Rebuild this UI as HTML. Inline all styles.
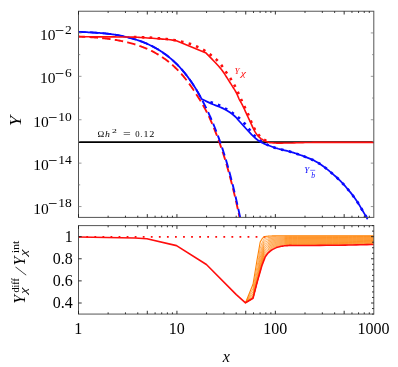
<!DOCTYPE html>
<html><head><meta charset="utf-8"><title>chart</title>
<style>html,body{margin:0;padding:0;background:#fff;overflow:hidden}svg{display:block;will-change:transform}</style></head>
<body>
<svg width="398" height="367" viewBox="0 0 398 367">
<rect width="398" height="367" fill="#fff"/>
<defs><clipPath id="c1"><rect x="78.50" y="11.23" width="295.70" height="208.57"/></clipPath>
<clipPath id="c1b"><rect x="78.50" y="11.23" width="295.70" height="206.47"/></clipPath>
<clipPath id="c2"><rect x="78.50" y="225.60" width="295.70" height="88.47"/></clipPath></defs>
<g clip-path="url(#c1)" fill="none" stroke-linejoin="round">
<path d="M78.50 142.15 H373.80" stroke="#000" stroke-width="1.6"/>
<g clip-path="url(#c1b)">
<path d="M78.50 36.49 L79.46 36.54 L80.42 36.58 L81.38 36.63 L82.35 36.68 L83.31 36.73 L84.27 36.78 L85.23 36.83 L86.19 36.89 L87.15 36.94 L88.12 37.00 L89.08 37.06 L90.04 37.13 L91.00 37.19 L91.96 37.26 L92.92 37.33 L93.88 37.41 L94.85 37.48 L95.81 37.56 L96.77 37.64 L97.73 37.73 L98.69 37.82 L99.65 37.91 L100.62 38.00 L101.58 38.10 L102.54 38.20 L103.50 38.30 L104.46 38.41 L105.42 38.52 L106.38 38.64 L107.35 38.75 L108.31 38.88 L109.27 39.00 L110.23 39.13 L111.19 39.27 L112.15 39.41 L113.12 39.55 L114.08 39.70 L115.04 39.86 L116.00 40.02 L116.96 40.18 L117.92 40.35 L118.88 40.52 L119.85 40.70 L120.81 40.89 L121.77 41.08 L122.73 41.28 L123.69 41.48 L124.65 41.69 L125.62 41.91 L126.58 42.13 L127.54 42.36 L128.50 42.60 L129.46 42.84 L130.42 43.10 L131.38 43.36 L132.35 43.62 L133.31 43.90 L134.27 44.18 L135.23 44.47 L136.19 44.77 L137.15 45.08 L138.12 45.40 L139.08 45.73 L140.04 46.07 L141.00 46.42 L141.96 46.77 L142.92 47.14 L143.88 47.52 L144.85 47.91 L145.81 48.31 L146.77 48.72 L147.73 49.14 L148.69 49.58 L149.65 50.02 L150.62 50.48 L151.58 50.96 L152.54 51.44 L153.50 51.94 L154.46 52.45 L155.42 52.98 L156.38 53.52 L157.35 54.08 L158.31 54.65 L159.27 55.23 L160.23 55.84 L161.19 56.46 L162.15 57.09 L163.12 57.74 L164.08 58.41 L165.04 59.10 L166.00 59.81 L166.96 60.53 L167.92 61.28 L168.88 62.04 L169.85 62.82 L170.81 63.63 L171.77 64.45 L172.73 65.30 L173.69 66.17 L174.65 67.06 L175.62 67.98 L176.58 68.91 L177.54 69.88 L178.50 70.86 L179.46 71.88 L180.42 72.91 L181.38 73.98 L182.35 75.07 L183.31 76.19 L184.27 77.34 L185.23 78.51 L186.19 79.72 L187.15 80.96 L188.12 82.23 L189.08 83.53 L190.04 84.86 L191.00 86.23 L191.96 87.63 L192.92 89.06 L193.88 90.53 L194.85 92.04 L195.81 93.58 L196.77 95.03 L197.73 96.48 L198.69 97.97 L199.65 99.50 L200.62 101.08 L201.58 102.70 L202.54 104.37 L203.50 106.08 L204.48 107.84 L205.48 109.65 L206.47 111.51 L207.47 113.41 L208.47 115.45 L209.47 117.63 L210.46 119.86 L211.46 122.15 L212.46 124.49 L213.46 126.89 L214.45 129.35 L215.45 131.86 L216.45 134.44 L217.45 137.08 L218.45 139.78 L219.44 142.54 L220.44 145.37 L221.44 148.27 L222.44 151.24 L223.43 154.28 L224.43 157.39 L225.40 160.58 L226.37 163.84 L227.33 167.18 L228.29 170.60 L229.25 174.10 L230.21 177.68 L231.17 181.35 L232.13 185.10 L233.10 188.94 L234.06 192.88 L235.02 196.90 L235.98 201.02 L236.94 205.24 L237.90 209.56 L238.87 213.98 L239.83 218.50 L240.79 223.13 L241.75 227.87" stroke="#ff0d0d" stroke-width="1.9" stroke-dasharray="8.5 4.2" stroke-dashoffset="1.67"/>
<path d="M78.50 31.93 L79.46 31.96 L80.42 31.99 L81.38 32.01 L82.35 32.05 L83.31 32.08 L84.27 32.11 L85.23 32.15 L86.19 32.19 L87.15 32.23 L88.12 32.27 L89.08 32.32 L90.04 32.36 L91.00 32.41 L91.96 32.47 L92.92 32.52 L93.88 32.58 L94.85 32.64 L95.81 32.70 L96.77 32.77 L97.73 32.83 L98.69 32.90 L99.65 32.98 L100.62 33.06 L101.58 33.14 L102.54 33.22 L103.50 33.31 L104.46 33.40 L105.42 33.49 L106.38 33.59 L107.35 33.70 L108.31 33.80 L109.27 33.91 L110.23 34.03 L111.19 34.15 L112.15 34.27 L113.12 34.42 L114.08 34.57 L115.04 34.72 L116.00 34.88 L116.96 35.05 L117.92 35.22 L118.88 35.40 L119.85 35.58 L120.81 35.76 L121.77 35.96 L122.73 36.16 L123.69 36.36 L124.65 36.57 L125.62 36.79 L126.58 37.02 L127.54 37.25 L128.50 37.49 L129.46 37.73 L130.42 37.99 L131.38 38.25 L132.35 38.52 L133.31 38.80 L134.27 39.08 L135.23 39.38 L136.19 39.68 L137.15 39.99 L138.12 40.31 L139.08 40.64 L140.04 40.98 L141.00 41.33 L141.96 41.69 L142.92 42.06 L143.88 42.44 L144.85 42.83 L145.81 43.24 L146.77 43.65 L147.73 44.08 L148.69 44.52 L149.65 44.97 L150.62 45.43 L151.58 45.90 L152.54 46.39 L153.50 46.90 L154.46 47.41 L155.42 47.94 L156.38 48.49 L157.35 49.05 L158.31 49.62 L159.27 50.21 L160.23 50.82 L161.19 51.44 L162.15 52.08 L163.12 52.74 L164.08 53.41 L165.04 54.11 L166.00 54.82 L166.96 55.55 L167.92 56.30 L168.88 57.07 L169.85 57.85 L170.81 58.66 L171.77 59.49 L172.73 60.35 L173.69 61.22 L174.65 62.12 L175.62 63.04 L176.58 63.98 L177.54 64.95 L178.50 65.95 L179.46 66.96 L180.42 68.01 L181.38 69.08 L182.35 70.18 L183.31 71.31 L184.27 72.46 L185.23 73.65 L186.19 74.86 L187.15 76.11 L188.12 77.38 L189.08 78.69 L190.04 80.03 L191.00 81.41 L191.96 82.81 L192.92 84.26 L193.88 85.74 L194.85 87.26 L195.81 88.81 L196.77 90.40 L197.73 92.03 L198.69 93.71 L199.65 95.42 L200.62 97.17 L201.58 98.97 L202.54 100.81 L203.50 102.70 L204.48 104.63 L205.48 106.62 L206.47 108.64 L207.47 110.72 L208.47 112.85 L209.47 115.03 L210.46 117.26 L211.46 119.55 L212.46 121.89 L213.46 124.29 L214.45 126.75 L215.45 129.26 L216.45 131.84 L217.45 134.48 L218.45 137.18 L219.44 139.94 L220.44 142.77 L221.44 145.67 L222.44 148.64 L223.43 151.68 L224.43 154.79 L225.40 157.98 L226.37 161.24 L227.33 164.58 L228.29 168.00 L229.25 171.50 L230.21 175.08 L231.17 178.75 L232.13 182.50 L233.10 186.34 L234.06 190.28 L235.02 194.30 L235.98 198.42 L236.94 202.64 L237.90 206.96 L238.87 211.38 L239.83 215.90 L240.79 220.53 L241.75 225.27" stroke="#0a0aff" stroke-width="1.9" stroke-dasharray="8.5 4.2" stroke-dashoffset="1.29"/>
</g>
<path d="M78.50 31.93 L79.46 31.96 L80.42 31.99 L81.38 32.01 L82.35 32.05 L83.31 32.08 L84.27 32.11 L85.23 32.15 L86.19 32.19 L87.15 32.23 L88.12 32.27 L89.08 32.32 L90.04 32.36 L91.00 32.41 L91.96 32.47 L92.92 32.52 L93.88 32.58 L94.85 32.64 L95.81 32.70 L96.77 32.77 L97.73 32.83 L98.69 32.90 L99.65 32.98 L100.62 33.06 L101.58 33.14 L102.54 33.22 L103.50 33.31 L104.46 33.40 L105.42 33.49 L106.38 33.59 L107.35 33.70 L108.31 33.80 L109.27 33.91 L110.23 34.03 L111.19 34.15 L112.15 34.27 L113.12 34.42 L114.08 34.57 L115.04 34.72 L116.00 34.88 L116.96 35.05 L117.92 35.22 L118.88 35.40 L119.85 35.58 L120.81 35.76 L121.77 35.96 L122.73 36.16 L123.69 36.36 L124.65 36.57 L125.62 36.79 L126.58 37.02 L127.54 37.25 L128.50 37.49 L129.46 37.73 L130.42 37.99 L131.38 38.25 L132.35 38.52 L133.31 38.80 L134.27 39.08 L135.23 39.38 L136.19 39.68 L137.15 39.99 L138.12 40.31 L139.08 40.64 L140.04 40.98 L141.00 41.33 L141.96 41.69 L142.92 42.06 L143.88 42.44 L144.85 42.83 L145.81 43.24 L146.77 43.65 L147.73 44.08 L148.69 44.52 L149.65 44.97 L150.62 45.43 L151.58 45.90 L152.54 46.39 L153.50 46.90 L154.46 47.41 L155.42 47.94 L156.38 48.49 L157.35 49.05 L158.31 49.62 L159.27 50.21 L160.23 50.82 L161.19 51.44 L162.15 52.08 L163.12 52.74 L164.08 53.41 L165.04 54.11 L166.00 54.82 L166.96 55.55 L167.92 56.30 L168.88 57.07 L169.85 57.85 L170.81 58.66 L171.77 59.49 L172.73 60.35 L173.69 61.22 L174.65 62.12 L175.62 63.04 L176.58 63.98 L177.54 64.95 L178.50 65.95 L179.46 66.96 L180.42 68.01 L181.38 69.08 L182.35 70.18 L183.31 71.31 L184.27 72.46 L185.23 73.65 L186.19 74.86 L187.15 76.11 L188.12 77.38 L189.08 78.69 L190.04 80.03 L191.00 81.41 L191.96 82.81 L192.92 84.26 L193.88 85.74 L194.85 87.26 L195.81 88.81 L196.77 90.40 L197.73 92.03 L198.69 93.71 L199.65 95.42 L200.62 97.17 L201.58 98.97 L203.20 99.78 L204.82 100.57 L206.44 101.35 L208.06 102.12 L209.68 102.87 L211.30 103.60 L213.42 104.49 L215.53 105.32 L217.65 106.12 L219.77 106.96 L221.88 107.87 L224.00 108.90 L226.05 110.02 L228.10 111.23 L230.15 112.57 L232.20 114.06 L234.25 115.73 L236.30 117.60 L236.58 117.90 L236.87 118.24 L237.15 118.60 L237.43 118.98 L237.72 119.35 L238.00 119.70 L238.90 120.74 L239.80 121.76 L240.70 122.75 L241.60 123.74 L242.50 124.72 L243.40 125.70 L244.32 126.71 L245.23 127.72 L246.15 128.73 L247.07 129.73 L247.98 130.73 L248.90 131.70 L249.80 132.66 L250.70 133.61 L251.60 134.56 L252.50 135.49 L253.40 136.37 L254.30 137.20 L255.22 138.00 L256.13 138.79 L257.05 139.54 L257.97 140.25 L258.88 140.91 L259.80 141.50 L260.53 141.93 L261.27 142.32 L262.00 142.69 L262.73 143.04 L263.47 143.37 L264.20 143.70 L265.08 144.08 L265.97 144.45 L266.85 144.80 L267.73 145.14 L268.62 145.47 L269.50 145.80 L270.77 146.27 L272.03 146.73 L273.30 147.17 L274.57 147.61 L275.83 148.02 L277.10 148.40 L278.35 148.75 L279.60 149.07 L280.85 149.38 L282.10 149.68 L283.35 149.99 L284.60 150.30 L285.87 150.62 L287.13 150.94 L288.40 151.27 L289.67 151.60 L290.93 151.94 L292.20 152.30 L293.45 152.68 L294.70 153.08 L295.95 153.50 L297.20 153.92 L298.45 154.36 L299.70 154.80 L300.95 155.24 L302.20 155.69 L303.45 156.15 L304.70 156.62 L305.95 157.11 L307.20 157.60 L308.47 158.11 L309.73 158.62 L311.00 159.14 L312.27 159.69 L313.53 160.28 L314.80 160.90 L316.20 161.65 L317.60 162.47 L319.00 163.35 L320.40 164.27 L321.80 165.22 L323.20 166.20 L324.55 167.18 L325.90 168.22 L327.25 169.31 L328.60 170.42 L329.95 171.55 L331.30 172.70 L332.67 173.87 L334.03 175.05 L335.40 176.26 L336.77 177.49 L338.13 178.77 L339.50 180.10 L340.87 181.48 L342.23 182.92 L343.60 184.40 L344.97 185.93 L346.33 187.49 L347.70 189.10 L349.07 190.74 L350.43 192.41 L351.80 194.13 L353.17 195.91 L354.53 197.77 L355.90 199.70 L356.98 201.32 L358.07 203.03 L359.15 204.81 L360.23 206.63 L361.32 208.47 L362.40 210.30 L363.00 211.31 L363.60 212.33 L364.20 213.36 L364.80 214.40 L365.40 215.44 L366.00 216.50 L366.27 216.97 L366.53 217.45 L366.80 217.94 L367.07 218.42 L367.33 218.91 L367.60 219.40" stroke="#0a0aff" stroke-width="1.75"/>
<path d="M205.50 100.30 L206.47 100.65 L207.43 101.00 L208.40 101.35 L209.37 101.70 L210.33 102.05 L211.30 102.40 L212.58 102.85 L213.87 103.29 L215.15 103.73 L216.43 104.19 L217.72 104.67 L219.00 105.20 L220.13 105.72 L221.27 106.28 L222.40 106.88 L223.53 107.51 L224.67 108.15 L225.80 108.80 L226.93 109.45 L228.07 110.11 L229.20 110.80 L230.33 111.50 L231.47 112.23 L232.60 113.00 L233.68 113.77 L234.77 114.56 L235.85 115.39 L236.93 116.26 L238.02 117.16 L239.10 118.10 L240.00 118.91 L240.90 119.76 L241.80 120.65 L242.70 121.57 L243.60 122.52 L244.50 123.50 L245.32 124.43 L246.13 125.41 L246.95 126.43 L247.77 127.46 L248.58 128.49 L249.40 129.50 L250.22 130.52 L251.03 131.57 L251.85 132.62 L252.67 133.64 L253.48 134.61 L254.30 135.50 L255.22 136.44 L256.13 137.34 L257.05 138.20 L257.97 139.00 L258.88 139.74 L259.80 140.40 L260.62 140.92 L261.43 141.39 L262.25 141.82 L263.07 142.24 L263.88 142.66 L264.70 143.10 L265.50 143.56 L266.30 144.04 L267.10 144.52 L267.90 144.99 L268.70 145.42 L269.50 145.80 L270.77 146.32 L272.03 146.80 L273.30 147.24 L274.57 147.64 L275.83 148.03 L277.10 148.40 L278.35 148.75 L279.60 149.07 L280.85 149.38 L282.10 149.68 L283.35 149.99 L284.60 150.30 L285.87 150.62 L287.13 150.94 L288.40 151.27 L289.67 151.60 L290.93 151.94 L292.20 152.30 L293.45 152.68 L294.70 153.08 L295.95 153.50 L297.20 153.92 L298.45 154.36 L299.70 154.80 L300.95 155.24 L302.20 155.69 L303.45 156.15 L304.70 156.62 L305.95 157.11 L307.20 157.60 L308.47 158.11 L309.73 158.62 L311.00 159.14 L312.27 159.69 L313.53 160.28 L314.80 160.90 L316.20 161.65 L317.60 162.47 L319.00 163.35 L320.40 164.27 L321.80 165.22 L323.20 166.20 L324.55 167.18 L325.90 168.22 L327.25 169.31 L328.60 170.42 L329.95 171.55 L331.30 172.70 L332.67 173.87 L334.03 175.05 L335.40 176.26 L336.77 177.49 L338.13 178.77 L339.50 180.10 L340.87 181.48 L342.23 182.92 L343.60 184.40 L344.97 185.93 L346.33 187.49 L347.70 189.10 L349.07 190.74 L350.43 192.41 L351.80 194.13 L353.17 195.91 L354.53 197.77 L355.90 199.70 L356.98 201.32 L358.07 203.03 L359.15 204.81 L360.23 206.63 L361.32 208.47 L362.40 210.30 L363.00 211.31 L363.60 212.33 L364.20 213.36 L364.80 214.40 L365.40 215.44 L366.00 216.50 L366.27 216.97 L366.53 217.45 L366.80 217.94 L367.07 218.42 L367.33 218.91 L367.60 219.40" stroke="#0a0aff" stroke-width="2.6" stroke-dasharray="2.6 5.3" stroke-dashoffset="2.69"/>
<path d="M78.50 36.80 L83.75 36.81 L89.00 36.82 L94.25 36.84 L99.50 36.86 L104.75 36.88 L110.00 36.90 L112.50 36.91 L115.00 36.92 L117.50 36.94 L120.00 36.96 L122.50 36.98 L125.00 37.00 L126.83 37.02 L128.67 37.04 L130.50 37.07 L132.33 37.11 L134.17 37.15 L136.00 37.20 L137.50 37.26 L139.00 37.35 L140.50 37.45 L142.00 37.57 L143.50 37.69 L145.00 37.80 L147.53 37.97 L150.07 38.14 L152.60 38.32 L155.13 38.50 L157.67 38.69 L160.20 38.90 L162.70 39.11 L165.20 39.31 L167.70 39.53 L170.20 39.79 L172.70 40.11 L175.20 40.50 L175.50 40.56 L175.80 40.64 L176.10 40.72 L176.40 40.81 L176.70 40.91 L177.00 41.00 L206.10 53.10 L207.58 54.57 L209.07 56.07 L210.55 57.59 L212.03 59.14 L213.52 60.71 L215.00 62.30 L216.17 63.55 L217.33 64.79 L218.50 66.06 L219.67 67.36 L220.83 68.73 L222.00 70.20 L222.90 71.43 L223.80 72.75 L224.70 74.13 L225.60 75.56 L226.50 76.99 L227.40 78.40 L228.32 79.83 L229.23 81.26 L230.15 82.71 L231.07 84.16 L231.98 85.63 L232.90 87.10 L233.45 87.97 L234.00 88.83 L234.55 89.69 L235.10 90.57 L235.65 91.50 L236.20 92.50 L236.73 93.58 L237.27 94.76 L237.80 96.01 L238.33 97.26 L238.87 98.48 L239.40 99.60 L239.90 100.55 L240.40 101.45 L240.90 102.31 L241.40 103.17 L241.90 104.06 L242.40 105.00 L243.03 106.28 L243.67 107.62 L244.30 109.01 L244.93 110.42 L245.57 111.82 L246.20 113.20 L246.83 114.55 L247.47 115.90 L248.10 117.25 L248.73 118.60 L249.37 119.95 L250.00 121.30 L250.55 122.49 L251.10 123.71 L251.65 124.92 L252.20 126.12 L252.75 127.29 L253.30 128.40 L253.75 129.29 L254.20 130.16 L254.65 131.02 L255.10 131.84 L255.55 132.60 L256.00 133.30 L256.45 133.94 L256.90 134.54 L257.35 135.11 L257.80 135.64 L258.25 136.14 L258.70 136.60 L259.25 137.13 L259.80 137.63 L260.35 138.09 L260.90 138.53 L261.45 138.93 L262.00 139.30 L262.72 139.74 L263.43 140.16 L264.15 140.55 L264.87 140.91 L265.58 141.22 L266.30 141.50 L267.03 141.76 L267.77 142.01 L268.50 142.24 L269.23 142.44 L269.97 142.60 L270.70 142.70 L271.92 142.81 L273.13 142.91 L274.35 142.99 L275.57 143.05 L276.78 143.09 L278.00 143.10 L280.00 143.10 L282.00 143.09 L284.00 143.07 L286.00 143.05 L288.00 143.03 L290.00 143.00 L292.17 142.96 L294.33 142.89 L296.50 142.81 L298.67 142.73 L300.83 142.66 L303.00 142.60 L305.00 142.56 L307.00 142.51 L309.00 142.47 L311.00 142.43 L313.00 142.41 L315.00 142.40 L324.83 142.40 L334.67 142.40 L344.50 142.40 L354.33 142.40 L364.17 142.40 L374.00 142.40" stroke="#ff0d0d" stroke-width="1.6"/>
<path d="M131.00 36.90 L133.33 36.96 L135.67 37.02 L138.00 37.11 L140.33 37.20 L142.67 37.29 L145.00 37.40 L147.50 37.52 L150.00 37.67 L152.50 37.83 L155.00 38.00 L157.50 38.19 L160.00 38.40 L162.28 38.60 L164.57 38.83 L166.85 39.08 L169.13 39.36 L171.42 39.66 L173.70 40.00 L174.97 40.21 L176.23 40.46 L177.50 40.73 L178.77 41.01 L180.03 41.31 L181.30 41.60 L182.67 41.92 L184.03 42.24 L185.40 42.57 L186.77 42.92 L188.13 43.30 L189.50 43.70 L190.63 44.07 L191.77 44.47 L192.90 44.89 L194.03 45.34 L195.17 45.81 L196.30 46.30 L197.55 46.86 L198.80 47.44 L200.05 48.05 L201.30 48.70 L202.55 49.38 L203.80 50.10 L204.93 50.80 L206.07 51.56 L207.20 52.36 L208.33 53.19 L209.47 54.04 L210.60 54.90 L211.62 55.67 L212.63 56.45 L213.65 57.25 L214.67 58.08 L215.68 58.96 L216.70 59.90 L217.57 60.77 L218.43 61.69 L219.30 62.68 L220.17 63.71 L221.03 64.79 L221.90 65.90 L222.65 66.92 L223.40 68.01 L224.15 69.15 L224.90 70.31 L225.65 71.47 L226.40 72.60 L227.15 73.69 L227.90 74.77 L228.65 75.84 L229.40 76.93 L230.15 78.04 L230.90 79.20 L231.57 80.26 L232.23 81.34 L232.90 82.45 L233.57 83.59 L234.23 84.77 L234.90 86.00 L235.47 87.10 L236.03 88.25 L236.60 89.44 L237.17 90.65 L237.73 91.88 L238.30 93.10 L238.85 94.29 L239.40 95.51 L239.95 96.73 L240.50 97.96 L241.05 99.18 L241.60 100.40 L242.13 101.58 L242.67 102.75 L243.20 103.93 L243.73 105.10 L244.27 106.26 L244.80 107.40 L245.40 108.64 L246.00 109.85 L246.60 111.05 L247.20 112.25 L247.80 113.49 L248.40 114.80 L248.88 115.92 L249.37 117.11 L249.85 118.33 L250.33 119.55 L250.82 120.75 L251.30 121.90 L251.80 123.06 L252.30 124.21 L252.80 125.34 L253.30 126.43 L253.80 127.46 L254.30 128.40 L255.03 129.69 L255.77 130.93 L256.50 132.10 L257.23 133.17 L257.97 134.15 L258.70 135.00 L259.70 136.04 L260.70 137.01 L261.70 137.88 L262.70 138.67 L263.70 139.34 L264.70 139.90 L265.58 140.33 L266.47 140.72 L267.35 141.08 L268.23 141.39 L269.12 141.63 L270.00 141.80" stroke="#ff0d0d" stroke-width="2.6" stroke-dasharray="2.6 5.3" stroke-dashoffset="5.05"/>
</g>
<g clip-path="url(#c2)" fill="none" stroke-linejoin="round">
<path d="M78.50 236.8 H266" stroke="#ff0d0d" stroke-width="1.8" stroke-dasharray="1.8 6.26" stroke-dashoffset="0.22"/>
<path d="M268.20 236.10 L269.23 236.05 L270.25 236.00 L271.27 235.95 L272.30 235.90 L273.32 235.88 L274.35 235.85 L275.38 235.83 L276.40 235.80 L277.40 235.80 L278.40 235.80 L279.40 235.80 L280.40 235.80 L281.42 235.80 L282.45 235.80 L283.48 235.80 L284.50 235.80 L285.88 235.80 L287.25 235.80 L288.62 235.80 L290.00 235.80 L292.50 235.80 L295.00 235.80 L297.50 235.80 L300.00 235.80 L305.00 235.80 L310.00 235.80 L315.00 235.80 L320.00 235.80 L326.25 235.80 L332.50 235.80 L338.75 235.80 L345.00 235.80 L348.75 235.78 L352.50 235.75 L356.25 235.72 L360.00 235.70 L363.45 235.70 L366.90 235.70 L370.35 235.70 L373.80 235.70 L373.80 244.50 L370.35 244.57 L366.90 244.65 L363.45 244.73 L360.00 244.80 L356.25 244.88 L352.50 244.95 L348.75 245.03 L345.00 245.10 L338.75 245.18 L332.50 245.25 L326.25 245.32 L320.00 245.40 L315.00 245.43 L310.00 245.45 L305.00 245.47 L300.00 245.50 L297.50 245.47 L295.00 245.45 L292.50 245.43 L290.00 245.40 L288.62 245.50 L287.25 245.60 L285.88 245.70 L284.50 245.80 L283.48 245.98 L282.45 246.15 L281.42 246.32 L280.40 246.50 L279.40 246.78 L278.40 247.05 L277.40 247.32 L276.40 247.60 L275.38 248.10 L274.35 248.60 L273.32 249.10 L272.30 249.60 L271.27 250.40 L270.25 251.20 L269.23 252.00 L268.20 252.80Z" fill="#ff8408" fill-opacity="0.22" stroke="none"/>
<path d="M284.50 235.80 L285.88 235.80 L287.25 235.80 L288.62 235.80 L290.00 235.80 L292.50 235.80 L295.00 235.80 L297.50 235.80 L300.00 235.80 L305.00 235.80 L310.00 235.80 L315.00 235.80 L320.00 235.80 L326.25 235.80 L332.50 235.80 L338.75 235.80 L345.00 235.80 L348.75 235.78 L352.50 235.75 L356.25 235.72 L360.00 235.70 L363.45 235.70 L366.90 235.70 L370.35 235.70 L373.80 235.70 L373.80 244.50 L370.35 244.57 L366.90 244.65 L363.45 244.73 L360.00 244.80 L356.25 244.88 L352.50 244.95 L348.75 245.03 L345.00 245.10 L338.75 245.18 L332.50 245.25 L326.25 245.32 L320.00 245.40 L315.00 245.43 L310.00 245.45 L305.00 245.47 L300.00 245.50 L297.50 245.47 L295.00 245.45 L292.50 245.43 L290.00 245.40 L288.62 245.50 L287.25 245.60 L285.88 245.70 L284.50 245.80Z" fill="#ff8408" fill-opacity="0.3" stroke="none"/>
<path d="M245.50 302.80 L253.00 298.30 L254.00 294.40 L255.00 290.50 L256.00 286.60 L257.00 282.70 L257.80 279.89 L258.60 277.08 L259.40 274.26 L260.20 271.41 L260.65 269.82 L261.10 268.21 L261.55 266.57 L262.00 264.90 L262.43 263.62 L262.85 262.28 L263.27 260.83 L263.70 259.24 L264.10 257.79 L264.50 256.85 L264.90 255.90 L265.30 254.95 L266.02 254.04 L266.75 253.12 L267.48 252.20 L268.20 251.28 L269.23 250.55 L270.25 249.82 L271.27 249.09 L272.30 248.35 L273.32 247.90 L274.35 247.44 L275.38 246.98 L276.40 246.53 L277.40 246.28 L278.40 246.03 L279.40 245.78 L280.40 245.53 L281.42 245.37 L282.45 245.21 L283.48 245.05 L284.50 244.89 L285.88 244.80 L287.25 244.71 L288.62 244.62 L290.00 244.53 L292.50 244.55 L295.00 244.57 L297.50 244.60 L300.00 244.62 L305.00 244.60 L310.00 244.57 L315.00 244.55 L320.00 244.53 L326.25 244.46 L332.50 244.39 L338.75 244.32 L345.00 244.25 L348.75 244.18 L352.50 244.11 L356.25 244.04 L360.00 243.97 L363.45 243.90 L366.90 243.84 L370.35 243.77 L373.80 243.70" stroke="#ff8408" stroke-width="0.70"/>
<path d="M245.50 302.80 L253.00 298.27 L254.00 294.37 L255.00 290.46 L256.00 286.56 L257.00 282.65 L257.80 279.81 L258.60 276.95 L259.40 274.03 L260.20 271.02 L260.65 269.32 L261.10 267.59 L261.55 265.80 L262.00 263.95 L262.43 262.47 L262.85 260.90 L263.27 259.19 L263.70 257.32 L264.10 255.71 L264.50 254.84 L264.90 253.97 L265.30 253.11 L266.02 252.27 L266.75 251.44 L267.48 250.60 L268.20 249.76 L269.23 249.10 L270.25 248.44 L271.27 247.77 L272.30 247.11 L273.32 246.70 L274.35 246.28 L275.38 245.87 L276.40 245.45 L277.40 245.23 L278.40 245.00 L279.40 244.78 L280.40 244.55 L281.42 244.41 L282.45 244.27 L283.48 244.13 L284.50 243.98 L285.88 243.90 L287.25 243.82 L288.62 243.74 L290.00 243.65 L292.50 243.68 L295.00 243.70 L297.50 243.72 L300.00 243.74 L305.00 243.72 L310.00 243.70 L315.00 243.68 L320.00 243.65 L326.25 243.59 L332.50 243.53 L338.75 243.47 L345.00 243.41 L348.75 243.34 L352.50 243.28 L356.25 243.21 L360.00 243.15 L363.45 243.08 L366.90 243.02 L370.35 242.96 L373.80 242.90" stroke="#ff8408" stroke-width="0.70"/>
<path d="M245.50 302.80 L253.00 298.17 L254.00 294.25 L255.00 290.33 L256.00 286.41 L257.00 282.49 L257.80 279.57 L258.60 276.58 L259.40 273.48 L260.20 270.21 L260.65 268.39 L261.10 266.52 L261.55 264.58 L262.00 262.56 L262.43 260.92 L262.85 259.17 L263.27 257.30 L263.70 255.28 L264.10 253.62 L264.50 252.84 L264.90 252.05 L265.30 251.26 L266.02 250.51 L266.75 249.75 L267.48 249.00 L268.20 248.25 L269.23 247.65 L270.25 247.05 L271.27 246.46 L272.30 245.86 L273.32 245.49 L274.35 245.12 L275.38 244.75 L276.40 244.38 L277.40 244.18 L278.40 243.98 L279.40 243.78 L280.40 243.58 L281.42 243.45 L282.45 243.33 L283.48 243.20 L284.50 243.07 L285.88 243.00 L287.25 242.93 L288.62 242.85 L290.00 242.78 L292.50 242.80 L295.00 242.82 L297.50 242.84 L300.00 242.85 L305.00 242.84 L310.00 242.82 L315.00 242.80 L320.00 242.78 L326.25 242.73 L332.50 242.67 L338.75 242.62 L345.00 242.56 L348.75 242.50 L352.50 242.44 L356.25 242.38 L360.00 242.32 L363.45 242.26 L366.90 242.21 L370.35 242.15 L373.80 242.10" stroke="#ff8408" stroke-width="0.70"/>
<path d="M245.50 302.80 L253.00 297.93 L254.00 293.98 L255.00 290.02 L256.00 286.07 L257.00 282.11 L257.80 279.04 L258.60 275.86 L259.40 272.51 L260.20 268.93 L260.65 266.98 L261.10 264.98 L261.55 262.91 L262.00 260.77 L262.43 259.02 L262.85 257.18 L263.27 255.23 L263.70 253.17 L264.10 251.54 L264.50 250.83 L264.90 250.12 L265.30 249.42 L266.02 248.75 L266.75 248.07 L267.48 247.40 L268.20 246.73 L269.23 246.20 L270.25 245.67 L271.27 245.15 L272.30 244.62 L273.32 244.29 L274.35 243.96 L275.38 243.64 L276.40 243.31 L277.40 243.13 L278.40 242.96 L279.40 242.78 L280.40 242.61 L281.42 242.50 L282.45 242.39 L283.48 242.28 L284.50 242.16 L285.88 242.10 L287.25 242.04 L288.62 241.97 L290.00 241.91 L292.50 241.93 L295.00 241.94 L297.50 241.96 L300.00 241.97 L305.00 241.96 L310.00 241.94 L315.00 241.93 L320.00 241.91 L326.25 241.86 L332.50 241.81 L338.75 241.77 L345.00 241.72 L348.75 241.66 L352.50 241.60 L356.25 241.55 L360.00 241.49 L363.45 241.44 L366.90 241.40 L370.35 241.35 L373.80 241.30" stroke="#ff8408" stroke-width="0.70"/>
<path d="M245.50 302.80 L253.00 297.48 L254.00 293.46 L255.00 289.43 L256.00 285.41 L257.00 281.38 L257.80 278.11 L258.60 274.67 L259.40 271.02 L260.20 267.09 L260.65 265.05 L261.10 262.97 L261.55 260.82 L262.00 258.62 L262.43 256.82 L262.85 254.95 L263.27 253.01 L263.70 250.99 L264.10 249.45 L264.50 248.83 L264.90 248.20 L265.30 247.57 L266.02 246.98 L266.75 246.39 L267.48 245.80 L268.20 245.21 L269.23 244.75 L270.25 244.29 L271.27 243.83 L272.30 243.37 L273.32 243.09 L274.35 242.80 L275.38 242.52 L276.40 242.24 L277.40 242.09 L278.40 241.94 L279.40 241.79 L280.40 241.64 L281.42 241.54 L282.45 241.45 L283.48 241.35 L284.50 241.25 L285.88 241.20 L287.25 241.15 L288.62 241.09 L290.00 241.04 L292.50 241.05 L295.00 241.06 L297.50 241.08 L300.00 241.09 L305.00 241.08 L310.00 241.06 L315.00 241.05 L320.00 241.04 L326.25 241.00 L332.50 240.95 L338.75 240.91 L345.00 240.87 L348.75 240.82 L352.50 240.77 L356.25 240.72 L360.00 240.66 L363.45 240.62 L366.90 240.58 L370.35 240.54 L373.80 240.50" stroke="#ff8408" stroke-width="0.70"/>
<path d="M245.50 302.80 L253.00 296.72 L254.00 292.58 L255.00 288.44 L256.00 284.30 L257.00 280.16 L257.80 276.62 L258.60 272.90 L259.40 268.93 L260.20 264.66 L260.65 262.58 L261.10 260.46 L261.55 258.31 L262.00 256.12 L262.43 254.35 L262.85 252.53 L263.27 250.67 L263.70 248.77 L264.10 247.37 L264.50 246.82 L264.90 246.28 L265.30 245.73 L266.02 245.22 L266.75 244.71 L267.48 244.20 L268.20 243.69 L269.23 243.30 L270.25 242.91 L271.27 242.52 L272.30 242.13 L273.32 241.89 L274.35 241.65 L275.38 241.40 L276.40 241.16 L277.40 241.04 L278.40 240.91 L279.40 240.79 L280.40 240.66 L281.42 240.58 L282.45 240.50 L283.48 240.43 L284.50 240.35 L285.88 240.30 L287.25 240.25 L288.62 240.21 L290.00 240.16 L292.50 240.18 L295.00 240.19 L297.50 240.20 L300.00 240.21 L305.00 240.20 L310.00 240.19 L315.00 240.18 L320.00 240.16 L326.25 240.13 L332.50 240.10 L338.75 240.06 L345.00 240.03 L348.75 239.98 L352.50 239.93 L356.25 239.88 L360.00 239.84 L363.45 239.80 L366.90 239.77 L370.35 239.73 L373.80 239.70" stroke="#ff8408" stroke-width="0.70"/>
<path d="M245.50 302.80 L253.00 295.55 L254.00 291.23 L255.00 286.91 L256.00 282.60 L257.00 278.28 L257.80 274.45 L258.60 270.42 L259.40 266.14 L260.20 261.58 L260.65 259.53 L261.10 257.47 L261.55 255.39 L262.00 253.29 L262.43 251.62 L262.85 249.93 L263.27 248.22 L263.70 246.50 L264.10 245.29 L264.50 244.82 L264.90 244.35 L265.30 243.88 L266.02 243.45 L266.75 243.03 L267.48 242.60 L268.20 242.17 L269.23 241.85 L270.25 241.53 L271.27 241.20 L272.30 240.88 L273.32 240.68 L274.35 240.49 L275.38 240.29 L276.40 240.09 L277.40 239.99 L278.40 239.89 L279.40 239.79 L280.40 239.69 L281.42 239.63 L282.45 239.56 L283.48 239.50 L284.50 239.44 L285.88 239.40 L287.25 239.36 L288.62 239.33 L290.00 239.29 L292.50 239.30 L295.00 239.31 L297.50 239.32 L300.00 239.33 L305.00 239.32 L310.00 239.31 L315.00 239.30 L320.00 239.29 L326.25 239.26 L332.50 239.24 L338.75 239.21 L345.00 239.18 L348.75 239.14 L352.50 239.10 L356.25 239.05 L360.00 239.01 L363.45 238.98 L366.90 238.95 L370.35 238.93 L373.80 238.90" stroke="#ff8408" stroke-width="0.70"/>
<path d="M245.50 302.80 L253.00 293.85 L254.00 289.28 L255.00 284.70 L256.00 280.13 L257.00 275.55 L257.80 271.43 L258.60 267.12 L259.40 262.59 L260.20 257.81 L260.65 255.89 L261.10 253.98 L261.55 252.06 L262.00 250.14 L262.43 248.66 L262.85 247.17 L263.27 245.68 L263.70 244.19 L264.10 243.20 L264.50 242.81 L264.90 242.43 L265.30 242.04 L266.02 241.69 L266.75 241.35 L267.48 241.00 L268.20 240.65 L269.23 240.40 L270.25 240.15 L271.27 239.89 L272.30 239.64 L273.32 239.48 L274.35 239.33 L275.38 239.17 L276.40 239.02 L277.40 238.94 L278.40 238.87 L279.40 238.79 L280.40 238.72 L281.42 238.67 L282.45 238.62 L283.48 238.58 L284.50 238.53 L285.88 238.50 L287.25 238.47 L288.62 238.45 L290.00 238.42 L292.50 238.43 L295.00 238.43 L297.50 238.44 L300.00 238.45 L305.00 238.44 L310.00 238.43 L315.00 238.43 L320.00 238.42 L326.25 238.40 L332.50 238.38 L338.75 238.36 L345.00 238.34 L348.75 238.30 L352.50 238.26 L356.25 238.22 L360.00 238.18 L363.45 238.16 L366.90 238.14 L370.35 238.12 L373.80 238.10" stroke="#ff8408" stroke-width="0.70"/>
<path d="M245.50 302.80 L253.00 291.50 L254.00 286.57 L255.00 281.64 L256.00 276.71 L257.00 271.77 L257.80 267.40 L258.60 262.88 L259.40 258.19 L260.20 253.32 L260.65 251.64 L261.10 249.98 L261.55 248.33 L262.00 246.69 L262.43 245.47 L262.85 244.25 L263.27 243.05 L263.70 241.86 L264.10 241.12 L264.50 240.81 L264.90 240.50 L265.30 240.19 L266.02 239.93 L266.75 239.66 L267.48 239.40 L268.20 239.14 L269.23 238.95 L270.25 238.76 L271.27 238.58 L272.30 238.39 L273.32 238.28 L274.35 238.17 L275.38 238.06 L276.40 237.95 L277.40 237.90 L278.40 237.85 L279.40 237.80 L280.40 237.75 L281.42 237.71 L282.45 237.68 L283.48 237.65 L284.50 237.62 L285.88 237.60 L287.25 237.58 L288.62 237.56 L290.00 237.55 L292.50 237.55 L295.00 237.55 L297.50 237.56 L300.00 237.56 L305.00 237.56 L310.00 237.55 L315.00 237.55 L320.00 237.55 L326.25 237.53 L332.50 237.52 L338.75 237.50 L345.00 237.49 L348.75 237.46 L352.50 237.42 L356.25 237.39 L360.00 237.35 L363.45 237.34 L366.90 237.33 L370.35 237.31 L373.80 237.30" stroke="#ff8408" stroke-width="0.70"/>
<path d="M245.50 302.80 L253.00 288.37 L254.00 282.96 L255.00 277.55 L256.00 272.14 L257.00 266.74 L257.80 262.20 L258.60 257.58 L259.40 252.86 L260.20 248.06 L260.65 246.76 L261.10 245.47 L261.55 244.20 L262.00 242.94 L262.43 242.06 L262.85 241.19 L263.27 240.34 L263.70 239.49 L264.10 239.03 L264.50 238.80 L264.90 238.58 L265.30 238.35 L266.02 238.16 L266.75 237.98 L267.48 237.80 L268.20 237.62 L269.23 237.50 L270.25 237.38 L271.27 237.26 L272.30 237.15 L273.32 237.08 L274.35 237.01 L275.38 236.94 L276.40 236.87 L277.40 236.85 L278.40 236.82 L279.40 236.80 L280.40 236.77 L281.42 236.76 L282.45 236.74 L283.48 236.73 L284.50 236.71 L285.88 236.70 L287.25 236.69 L288.62 236.68 L290.00 236.67 L292.50 236.68 L295.00 236.68 L297.50 236.68 L300.00 236.68 L305.00 236.68 L310.00 236.68 L315.00 236.68 L320.00 236.67 L326.25 236.67 L332.50 236.66 L338.75 236.65 L345.00 236.65 L348.75 236.62 L352.50 236.59 L356.25 236.56 L360.00 236.53 L363.45 236.52 L366.90 236.51 L370.35 236.51 L373.80 236.50" stroke="#ff8408" stroke-width="0.70"/>
<path d="M245.50 302.80 L253.00 284.30 L254.00 278.27 L255.00 272.25 L256.00 266.23 L257.00 260.20 L257.80 255.65 L258.60 251.10 L259.40 246.55 L260.20 242.00 L260.65 241.22 L261.10 240.45 L261.55 239.68 L262.00 238.90 L262.43 238.45 L262.85 238.00 L263.27 237.55 L263.70 237.10 L264.10 236.95 L264.50 236.80 L264.90 236.65 L265.30 236.50 L266.02 236.40 L266.75 236.30 L267.48 236.20 L268.20 236.10 L269.23 236.05 L270.25 236.00 L271.27 235.95 L272.30 235.90 L273.32 235.88 L274.35 235.85 L275.38 235.83 L276.40 235.80 L277.40 235.80 L278.40 235.80 L279.40 235.80 L280.40 235.80 L281.42 235.80 L282.45 235.80 L283.48 235.80 L284.50 235.80 L285.88 235.80 L287.25 235.80 L288.62 235.80 L290.00 235.80 L292.50 235.80 L295.00 235.80 L297.50 235.80 L300.00 235.80 L305.00 235.80 L310.00 235.80 L315.00 235.80 L320.00 235.80 L326.25 235.80 L332.50 235.80 L338.75 235.80 L345.00 235.80 L348.75 235.78 L352.50 235.75 L356.25 235.72 L360.00 235.70 L363.45 235.70 L366.90 235.70 L370.35 235.70 L373.80 235.70" stroke="#ff8408" stroke-width="1.10"/>
<path d="M78.50 237.00 L135.00 238.05 L146.90 238.70 L176.50 245.60 L206.40 264.50 L236.30 294.60 L245.50 302.80 L253.00 298.30 L254.00 294.40 L255.00 290.50 L256.00 286.60 L257.00 282.70 L257.80 279.90 L258.60 277.10 L259.40 274.30 L260.20 271.50 L260.65 269.95 L261.10 268.40 L261.55 266.85 L262.00 265.30 L262.43 264.20 L262.85 263.10 L263.27 262.00 L263.70 260.90 L264.10 259.88 L264.50 258.85 L264.90 257.82 L265.30 256.80 L266.02 255.80 L266.75 254.80 L267.48 253.80 L268.20 252.80 L269.23 252.00 L270.25 251.20 L271.27 250.40 L272.30 249.60 L273.32 249.10 L274.35 248.60 L275.38 248.10 L276.40 247.60 L277.40 247.32 L278.40 247.05 L279.40 246.78 L280.40 246.50 L281.42 246.32 L282.45 246.15 L283.48 245.98 L284.50 245.80 L285.88 245.70 L287.25 245.60 L288.62 245.50 L290.00 245.40 L292.50 245.43 L295.00 245.45 L297.50 245.47 L300.00 245.50 L305.00 245.47 L310.00 245.45 L315.00 245.43 L320.00 245.40 L326.25 245.32 L332.50 245.25 L338.75 245.18 L345.00 245.10 L348.75 245.03 L352.50 244.95 L356.25 244.88 L360.00 244.80 L363.45 244.73 L366.90 244.65 L370.35 244.57 L373.80 244.50" stroke="#ff0d0d" stroke-width="1.6"/>
</g>
<g fill="none" stroke="#555" stroke-width="1.0">
<rect x="78.50" y="11.23" width="295.30" height="206.17"/>
<rect x="78.50" y="225.60" width="295.30" height="88.47"/>
</g>
<path d="M78.50 11.23 v3.30 M108.13 11.23 v1.70 M125.46 11.23 v1.70 M137.76 11.23 v1.70 M147.30 11.23 v3.30 M155.10 11.23 v1.70 M161.69 11.23 v1.70 M167.39 11.23 v1.70 M172.43 11.23 v1.70 M176.93 11.23 v3.30 M206.56 11.23 v1.70 M223.90 11.23 v1.70 M236.20 11.23 v1.70 M245.74 11.23 v3.30 M253.53 11.23 v1.70 M260.12 11.23 v1.70 M265.83 11.23 v1.70 M270.86 11.23 v1.70 M275.37 11.23 v3.30 M305.00 11.23 v1.70 M322.33 11.23 v1.70 M334.63 11.23 v1.70 M344.17 11.23 v3.30 M351.96 11.23 v1.70 M358.55 11.23 v1.70 M364.26 11.23 v1.70 M369.30 11.23 v1.70 M78.50 217.40 v-3.30 M108.13 217.40 v-1.70 M125.46 217.40 v-1.70 M137.76 217.40 v-1.70 M147.30 217.40 v-3.30 M155.10 217.40 v-1.70 M161.69 217.40 v-1.70 M167.39 217.40 v-1.70 M172.43 217.40 v-1.70 M176.93 217.40 v-3.30 M206.56 217.40 v-1.70 M223.90 217.40 v-1.70 M236.20 217.40 v-1.70 M245.74 217.40 v-3.30 M253.53 217.40 v-1.70 M260.12 217.40 v-1.70 M265.83 217.40 v-1.70 M270.86 217.40 v-1.70 M275.37 217.40 v-3.30 M305.00 217.40 v-1.70 M322.33 217.40 v-1.70 M334.63 217.40 v-1.70 M344.17 217.40 v-3.30 M351.96 217.40 v-1.70 M358.55 217.40 v-1.70 M364.26 217.40 v-1.70 M369.30 217.40 v-1.70 M78.50 225.60 v3.30 M108.13 225.60 v1.70 M125.46 225.60 v1.70 M137.76 225.60 v1.70 M147.30 225.60 v3.30 M155.10 225.60 v1.70 M161.69 225.60 v1.70 M167.39 225.60 v1.70 M172.43 225.60 v1.70 M176.93 225.60 v3.30 M206.56 225.60 v1.70 M223.90 225.60 v1.70 M236.20 225.60 v1.70 M245.74 225.60 v3.30 M253.53 225.60 v1.70 M260.12 225.60 v1.70 M265.83 225.60 v1.70 M270.86 225.60 v1.70 M275.37 225.60 v3.30 M305.00 225.60 v1.70 M322.33 225.60 v1.70 M334.63 225.60 v1.70 M344.17 225.60 v3.30 M351.96 225.60 v1.70 M358.55 225.60 v1.70 M364.26 225.60 v1.70 M369.30 225.60 v1.70 M78.50 314.07 v-3.30 M108.13 314.07 v-1.70 M125.46 314.07 v-1.70 M137.76 314.07 v-1.70 M147.30 314.07 v-3.30 M155.10 314.07 v-1.70 M161.69 314.07 v-1.70 M167.39 314.07 v-1.70 M172.43 314.07 v-1.70 M176.93 314.07 v-3.30 M206.56 314.07 v-1.70 M223.90 314.07 v-1.70 M236.20 314.07 v-1.70 M245.74 314.07 v-3.30 M253.53 314.07 v-1.70 M260.12 314.07 v-1.70 M265.83 314.07 v-1.70 M270.86 314.07 v-1.70 M275.37 314.07 v-3.30 M305.00 314.07 v-1.70 M322.33 314.07 v-1.70 M334.63 314.07 v-1.70 M344.17 314.07 v-3.30 M351.96 314.07 v-1.70 M358.55 314.07 v-1.70 M364.26 314.07 v-1.70 M369.30 314.07 v-1.70 M373.80 314.07 h-1.8 M373.80 308.54 h-1.8 M78.50 303.01 h3.2 M373.80 303.01 h-2.8 M373.80 297.48 h-1.8 M373.80 291.95 h-1.8 M373.80 286.42 h-1.8 M78.50 280.89 h3.2 M373.80 280.89 h-2.8 M373.80 275.36 h-1.8 M373.80 269.83 h-1.8 M373.80 264.31 h-1.8 M78.50 258.78 h3.2 M373.80 258.78 h-2.8 M373.80 253.25 h-1.8 M373.80 247.72 h-1.8 M373.80 242.19 h-1.8 M78.50 236.66 h3.2 M373.80 236.66 h-2.8 M373.80 231.13 h-1.8 M373.80 225.60 h-1.8" stroke="#1c1c1c" stroke-width="0.9" fill="none"/>
<path d="M78.50 32.93 h3.0 M373.80 32.93 h-3.0 M78.50 54.63 h1.7 M373.80 54.63 h-1.7 M78.50 76.34 h3.0 M373.80 76.34 h-3.0 M78.50 98.04 h1.7 M373.80 98.04 h-1.7 M78.50 119.74 h3.0 M373.80 119.74 h-3.0 M78.50 141.44 h1.7 M373.80 141.44 h-1.7 M78.50 163.14 h3.0 M373.80 163.14 h-3.0 M78.50 184.85 h1.7 M373.80 184.85 h-1.7 M78.50 206.55 h3.0 M373.80 206.55 h-3.0" stroke="#777" stroke-width="0.75" fill="none"/>
<g font-family="'Liberation Serif', serif" fill="#000">
<text x="71.8" y="33.73" font-size="13.5" text-anchor="end">2</text>
<text x="64.15" y="35.73" font-size="16.5" text-anchor="end">−</text>
<text x="55.44" y="39.93" font-size="15.5" text-anchor="end">10</text>
<text x="71.8" y="77.14" font-size="13.5" text-anchor="end">6</text>
<text x="64.15" y="79.14" font-size="16.5" text-anchor="end">−</text>
<text x="55.44" y="83.34" font-size="15.5" text-anchor="end">10</text>
<text x="71.8" y="120.54" font-size="13.5" text-anchor="end">10</text>
<text x="57.40" y="122.54" font-size="16.5" text-anchor="end">−</text>
<text x="48.69" y="126.74" font-size="15.5" text-anchor="end">10</text>
<text x="71.8" y="163.94" font-size="13.5" text-anchor="end">14</text>
<text x="57.40" y="165.94" font-size="16.5" text-anchor="end">−</text>
<text x="48.69" y="170.14" font-size="15.5" text-anchor="end">10</text>
<text x="71.8" y="207.35" font-size="13.5" text-anchor="end">18</text>
<text x="57.40" y="209.35" font-size="16.5" text-anchor="end">−</text>
<text x="48.69" y="213.55" font-size="15.5" text-anchor="end">10</text>
<text x="72.7" y="241.96" font-size="16" text-anchor="end">1</text>
<text x="72.7" y="264.08" font-size="16" text-anchor="end">0.8</text>
<text x="72.7" y="286.19" font-size="16" text-anchor="end">0.6</text>
<text x="72.7" y="308.31" font-size="16" text-anchor="end">0.4</text>
<text x="78.30" y="333.6" font-size="16" text-anchor="middle">1</text>
<text x="176.73" y="333.6" font-size="16" text-anchor="middle">10</text>
<text x="275.17" y="333.6" font-size="16" text-anchor="middle">100</text>
<text x="373.60" y="333.6" font-size="16" text-anchor="middle">1000</text>
<text x="226.3" y="362" font-size="16" font-style="italic" text-anchor="middle">x</text>
<text transform="translate(20.5,121.0) rotate(-90) scale(1.18,1.03)" font-size="16" font-style="italic" text-anchor="middle">Y</text>
<g transform="translate(24.5,303.3) rotate(-90)">
<text x="-0.5" y="0" font-size="16" font-style="italic">Y</text>
<text x="10.7" y="-5.3" font-size="10.5" textLength="14.5" lengthAdjust="spacingAndGlyphs">diff</text>
<text transform="translate(9.3,2.6) scale(1.35,1)" font-size="11" font-style="italic">χ</text>
<text transform="translate(27.8,1.5) skewX(-23)" font-size="16">/</text>
<text x="37.7" y="0" font-size="16" font-style="italic">Y</text>
<text x="50.0" y="-5.3" font-size="10.5" textLength="12.8" lengthAdjust="spacingAndGlyphs">int</text>
<text transform="translate(47.2,2.6) scale(1.35,1)" font-size="11" font-style="italic">χ</text>
</g>
<g font-size="7.6">
<text transform="translate(97.4,136.6) scale(1.20,1)" font-size="7.6">Ω</text>
<text transform="translate(105.1,136.6) scale(1.30,1)" font-size="7.6" font-style="italic">h</text>
<text transform="translate(112.0,133.1) scale(1.40,1)" font-size="7.0">2</text>
<text transform="translate(123.0,136.9) scale(1.80,1.5)" font-size="7.6">=</text>
<text transform="translate(135.3,136.6) scale(1.15,1)" font-size="7.6">0</text>
<text transform="translate(140.3,136.6) scale(1.20,1)" font-size="7.6">.</text>
<text transform="translate(143.4,136.6) scale(1.30,1)" font-size="7.6">1</text>
<text transform="translate(149.2,136.6) scale(1.35,1)" font-size="7.6">2</text>
</g>
<g fill="#ff0d0d" font-style="italic" opacity="0.99"><text transform="translate(234.4,73.6) scale(1.1,1)" font-size="8.2">Y</text><text transform="translate(240.8,75.6) scale(1.4,1)" font-size="8.4">χ</text></g>
<g fill="#0a0aff" font-style="italic"><text transform="translate(304.3,172.6) scale(1.1,1)" font-size="8.2">Y</text><text x="311.2" y="177.7" font-size="7.6">b</text><path d="M310.2 170.3h5" stroke="#0a0aff" stroke-width="0.55"/></g>
</g>
</svg>
</body></html>
